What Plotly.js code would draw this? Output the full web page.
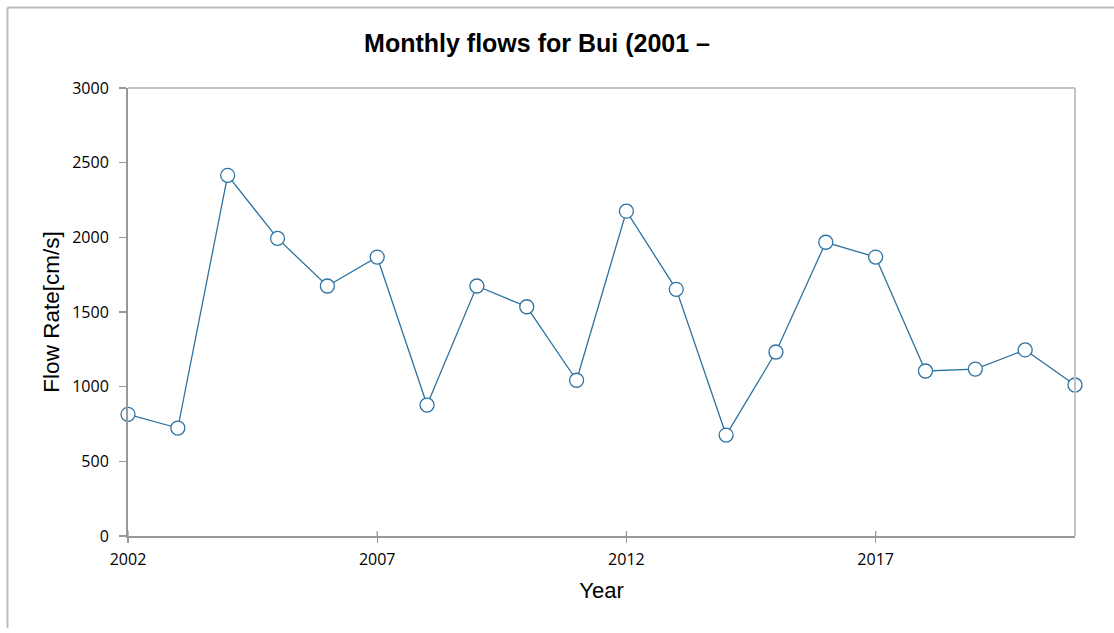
<!DOCTYPE html>
<html>
<head>
<meta charset="utf-8">
<script src="https://cdn.plot.ly/plotly-3.0.1.min.js"></script>
<style>html,body{margin:0;padding:0;background:#fff;}#chart{width:1114px;height:633px;}</style>
</head>
<body>
<div id="chart"></div>
<script>
const years = [2002,2003,2004,2005,2006,2007,2008,2009,2010,2011,2012,2013,2014,2015,2016,2017,2018,2019,2020,2021];
const flows = [815,723,2415,1993,1674,1868,877,1674,1535,1043,2175,1652,676,1232,1967,1868,1105,1118,1246,1011];
const xTicks = [2002,2007,2012,2017];
const yTicks = [0,500,1000,1500,2000,2500,3000];

const trace = {
  x: years, y: flows, type: 'scatter', mode: 'lines+markers',
  line: {color: '#2e72a0', width: 1.3},
  marker: {symbol: 'circle', size: 14, color: '#ffffff', line: {color: '#2e72a0', width: 1.3}},
  cliponaxis: false, hoverinfo: 'none'
};

const W = 1114, H = 633, L = 128, R = 39, T = 88, B = 97;
const pw = W - L - R, ph = H - T - B;
const px = v => (v - L) / pw;
const py = v => (H - B - v) / ph;
const arial = 'Liberation Sans, Arial, sans-serif';
const tickFam = 'Open Sans, Liberation Sans, sans-serif';

const layout = {
  width: W, height: H,
  margin: {l: L, r: R, t: T, b: B, pad: 0},
  paper_bgcolor: '#ffffff', plot_bgcolor: '#ffffff',
  showlegend: false,
  font: {family: arial, color: '#000'},
  title: {text: '<b>Monthly flows for Bui (2001 –</b>', font: {size: 25, family: arial, color: '#000'},
          x: 537/W, xref: 'container', xanchor: 'center', y: 1 - 43/H, yref: 'container', yanchor: 'middle'},
  xaxis: {
    range: [2002, 2021], tickvals: xTicks, ticktext: xTicks.map(String),
    showgrid: false, zeroline: false, showline: true, linecolor: '#999999', linewidth: 2,
    ticks: 'outside', ticklen: 5, tickcolor: '#999999', tickwidth: 1.3, ticklabelstandoff: 3,
    tickfont: {size: 16, family: tickFam, color: '#000'},
    title: {text: 'Year', font: {size: 22, family: arial, color: '#000'}, standoff: 13},
    mirror: false
  },
  yaxis: {
    range: [0, 3000], tickvals: yTicks, ticktext: yTicks.map(String),
    showgrid: false, zeroline: false, showline: true, linecolor: '#999999', linewidth: 2,
    ticks: 'outside', ticklen: 7, tickcolor: '#999999', tickwidth: 1.3, ticklabelstandoff: 7,
    tickfont: {size: 16, family: tickFam, color: '#000'},
    title: {text: 'Flow Rate[cm/s]', font: {size: 22.5, family: arial, color: '#000'}, standoff: 6}
  },
  shapes: [
    {type: 'line', xref: 'paper', yref: 'paper', x0: 0, x1: 1, y0: 1, y1: 1, line: {color: '#c4c4c4', width: 2}},
    {type: 'line', xref: 'paper', yref: 'paper', x0: 1, x1: 1, y0: 0, y1: 1, line: {color: '#c4c4c4', width: 2}},
    ...xTicks.map(t => ({type: 'line', xref: 'x', yref: 'paper', x0: t, x1: t, y0: 0, y1: 5/ph, line: {color: '#999999', width: 1.3}})),
    {type: 'line', xref: 'paper', yref: 'paper', x0: px(7.5), x1: px(7.5), y0: py(628), y1: py(7.5), line: {color: '#bbbbbb', width: 2}},
    {type: 'line', xref: 'paper', yref: 'paper', x0: px(7.5), x1: px(1114), y0: py(7.5), y1: py(7.5), line: {color: '#bbbbbb', width: 2}}
  ]
};

Plotly.newPlot('chart', [trace], layout, {displayModeBar: false, staticPlot: true});
</script>
</body>
</html>
